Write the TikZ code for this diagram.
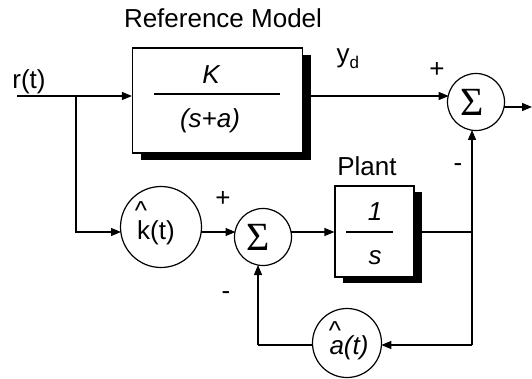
\documentclass[tikz,border=0pt]{standalone}
\usepackage{fontspec}
\setmainfont{Liberation Sans}
\newfontfamily\sigmafont{Liberation Serif}
\usetikzlibrary{arrows.meta,shadows,calc}
\begin{document}
\begin{tikzpicture}[x=1pt,y=-1pt, line width=1.2pt,
  conn/.style={-{Triangle[length=10pt,width=8pt]}},
  blk/.style={draw, fill=white, rectangle, inner sep=0pt},
  circ/.style={draw, fill=white, circle, inner sep=0pt},
  lbl/.style={font=\fontsize{26}{28}\selectfont, inner sep=0pt},
  ilbl/.style={font=\fontsize{26}{28}\selectfont\itshape, inner sep=0pt},
  sig/.style={font=\sigmafont\fontsize{40}{42}\selectfont, inner sep=0pt}]
\useasboundingbox (0,0) rectangle (532,379);

% blocks
\node[blk, minimum width=170pt, minimum height=105pt,
  drop shadow={shadow xshift=8pt, shadow yshift=-7pt, fill=black, opacity=1}]
  (ref) at (217.5,100.5) {};
\node[blk, minimum width=79pt, minimum height=91pt,
  drop shadow={shadow xshift=8pt, shadow yshift=-6pt, fill=black, opacity=1}]
  (plant) at (374.5,231.5) {};

% fraction contents
\draw (154,94) -- (280,94);
\node[ilbl] (Kt) at (211,75) {K};
\node[ilbl] (sat) at (210,121) {(s+a)};
\draw (346,232) -- (393,232);
\node[ilbl] (one) at (375,212) {1};
\node[ilbl] (st) at (375,258) {s};

% circles
\node[circ, minimum size=57pt] (s1) at (476,102) {};
\node[sig] at (472.5,102) {Σ};
\node[circ, minimum size=57pt] (s2) at (263,237) {};
\node[sig] at (258.5,237) {Σ};
\node[circ, minimum size=81pt] (k) at (161,227) {};
\node[lbl] (kt) at (156,233) {k(t)};
\node[lbl] (kh) at (141,211) {\textasciicircum};
\node[circ, minimum size=69pt] (a) at (347,343) {};
\node[ilbl] (at) at (349,348) {a(t)};
\node[lbl] (ah) at (335,331) {\textasciicircum};

% labels
\node[lbl] (title) at (223,18) {Reference Model};
\node[lbl] (rt) at (29,82) {r(t)};
\node[lbl, anchor=base west] (yd) at (336,63) {y\raisebox{-6pt}{\fontsize{17}{19}\selectfont d}};
\node[lbl] (p1) at (437,70) {+};
\node[lbl] (m1) at (458,168) {-};
\node[lbl] (pl) at (367,166) {Plant};
\node[lbl] (p2) at (223,199) {+};
\node[lbl] (m2) at (226,296) {-};

% connectors
\coordinate (rin) at (17,96);
\coordinate (br) at (76,96);
\coordinate (out) at (532,107);
\coordinate (j1) at (472,232);
\coordinate (j2) at (472,345);
\coordinate (j3) at (258,345);

\draw[conn] (rin) -- (ref.west |- rin);
\draw[conn] (ref.east |- rin) -- ($(s1.center)+(-27.3,-6)$);
\draw[conn] (br) |- ($(k.center)+(-40,5)$);
\draw[conn] ($(k.center)+(40,5)$) -- ($(s2.center)+(-27.5,-5)$);
\draw[conn] ($(s2.center)+(27.5,-5)$) -- (plant.west |- j1);
\draw (plant.east |- j1) -- (j1);
\draw[conn] (j2) -- ($(s1.center)+(-4,28)$);
\draw[conn] (j2) -- ($(a.center)+(34.3,2)$);
\draw ($(a.center)+(-34.3,2)$) -- (j3);
\draw[conn] (j3) -- ($(s2.center)+(-5,28)$);
\draw[conn] ($(s1.center)+(28,5)$) -- (out);
\end{tikzpicture}
\end{document}
